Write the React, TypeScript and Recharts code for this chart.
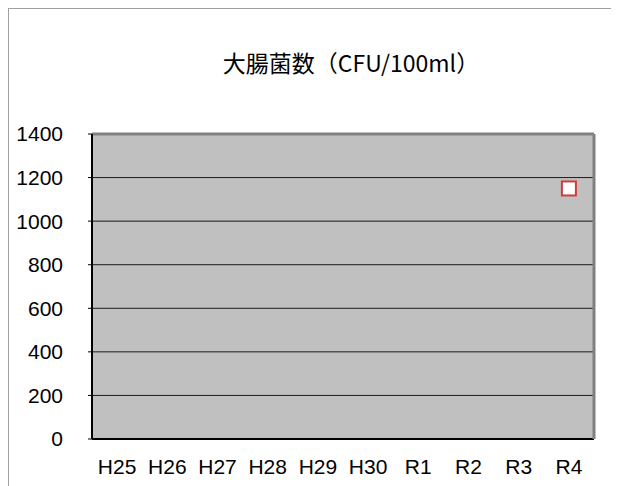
import React from 'react';
import { ComposedChart, Line, XAxis, YAxis, CartesianGrid } from 'recharts';

const categories = ['H25', 'H26', 'H27', 'H28', 'H29', 'H30', 'R1', 'R2', 'R3', 'R4'];
const ecoliValues: (number | null)[] = [null, null, null, null, null, null, null, null, null, 1150];
const yTicks = [0, 200, 400, 600, 800, 1000, 1200, 1400];
const boundaryTicks = [1, 2, 3, 4, 5, 6, 7, 8, 9];
const titleText = '大腸菌数（CFU/100ml）';

const data = categories.map((c, i) => ({ cat: c, pos: i + 0.5, v: ecoliValues[i] }));

const FONT = '"Liberation Sans", Arial, sans-serif';

const SquareDot = (props: any) => {
  const { cx, cy, value, index } = props;
  if (value == null || cx == null || cy == null) return <g key={`d${index}`} />;
  return (
    <rect key={`d${index}`} x={cx - 7} y={cy - 7} width={14} height={14} fill="#ffffff" stroke="#d23c3c" strokeWidth={2} />
  );
};

export default function App() {
  return (
    <div
      style={{
        position: 'relative',
        width: 608,
        height: 478,
        borderLeft: '1px solid #a0a0a0',
        borderTop: '1px solid #a0a0a0',
        borderRight: '1px solid #c8c8c8',
        background: '#fff',
      }}
    >
      <div
        style={{
          position: 'absolute',
          left: 342,
          top: 40,
          transform: 'translateX(-50%)',
          whiteSpace: 'nowrap',
          fontFamily: '"Noto Sans CJK JP", "Liberation Sans", sans-serif',
          fontSize: 23,
          lineHeight: '27px',
          color: '#000',
        }}
      >
        {titleText}
      </div>
      <div style={{ position: 'absolute', left: 0, top: 0 }}>
        <ComposedChart width={608} height={478} data={data} margin={{ top: 124, right: 22, bottom: 0, left: 0 }}>
          <CartesianGrid
            xAxisId="cat"
            yAxisId="left"
            vertical={false}
            fill="#c0c0c0"
            fillOpacity={1}
            stroke="#1a1a1a"
            strokeWidth={1}
          />
          <XAxis
            xAxisId="b"
            dataKey="pos"
            type="number"
            domain={[0, 10]}
            allowDataOverflow
            ticks={boundaryTicks}
            height={1}
            mirror
            tickSize={7}
            tick={false}
            axisLine={{ stroke: '#000', strokeWidth: 2 }}
            tickLine={{ stroke: '#000', strokeWidth: 1 }}
          />
          <XAxis
            xAxisId="cat"
            dataKey="cat"
            type="category"
            scale="band"
            height={48}
            tickSize={0}
            tickMargin={20}
            tickLine={false}
            axisLine={false}
            tick={{ fill: '#000', fontSize: 21, fontFamily: FONT }}
            interval={0}
          />
          <XAxis
            xAxisId="top"
            dataKey="cat"
            orientation="top"
            scale="band"
            height={1}
            tick={false}
            tickLine={false}
            axisLine={{ stroke: '#808080', strokeWidth: 3 }}
          />
          <YAxis
            yAxisId="right"
            orientation="right"
            domain={[0, 1400]}
            width={1}
            tick={false}
            tickLine={false}
            axisLine={{ stroke: '#808080', strokeWidth: 3 }}
          />
          <YAxis
            yAxisId="left"
            domain={[0, 1400]}
            ticks={yTicks}
            width={83}
            tickSize={4}
            tickMargin={25}
            tickLine={{ stroke: '#000' }}
            axisLine={{ stroke: '#000', strokeWidth: 2 }}
            tick={{ fill: '#000', fontSize: 21, fontFamily: FONT }}
            interval={0}
          />
          <Line
            xAxisId="cat"
            yAxisId="left"
            dataKey="v"
            stroke="none"
            dot={SquareDot}
            activeDot={false}
            isAnimationActive={false}
            connectNulls={false}
          />
        </ComposedChart>
      </div>
    </div>
  );
}
